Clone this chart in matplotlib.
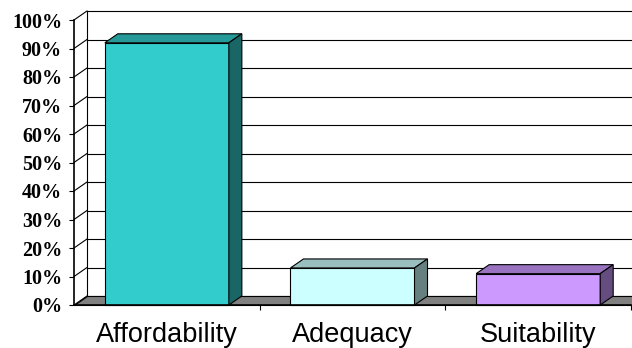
import matplotlib
matplotlib.use('Agg')
import matplotlib.pyplot as plt
from matplotlib.patches import Polygon
import numpy as np

# ---- data ----
categories = ['Affordability', 'Adequacy', 'Suitability']
values = [0.92, 0.13, 0.11]
front_colors = ['#33CCCC', '#CCFFFF', '#CC99FF']
top_colors = ['#269999', '#99BFBF', '#9973BF']
side_colors = ['#1A6666', '#668080', '#664D80']
yticks = [i / 10 for i in range(11)]
ytick_labels = ['%d%%' % (i * 10) for i in range(11)]

W, H = 632, 348
fig = plt.figure(figsize=(W / 100, H / 100), dpi=100)
ax = fig.add_axes([74 / W, (H - 305) / H, 557 / W, 285 / H])
ax.set_xlim(0, 3)
ax.set_ylim(0, 1)
ax.patch.set_visible(False)

# depth offset (pixels) converted to data units
pos = ax.get_position()
px_w, px_h = pos.width * W, pos.height * H
DX = 13 * 3 / px_w
DY = 9 * 1 / px_h

lw = 0.8
# back wall gridlines
for t in yticks:
    ax.plot([DX, 3 + DX], [t + DY, t + DY], color='black', lw=lw, clip_on=False, zorder=1)
    ax.plot([0, DX], [t, t + DY], color='black', lw=lw, clip_on=False, zorder=1)
ax.plot([DX, DX], [DY, 1 + DY], color='black', lw=lw, clip_on=False, zorder=1)

# floor
floor = Polygon([(0, 0), (3 + DX, 0), (3 + DX, DY), (DX, DY)], closed=True,
                facecolor='#808080', edgecolor='black', lw=lw, clip_on=False, zorder=2)
ax.add_patch(floor)

# bars
bw = 0.668
for i, v in enumerate(values):
    c = i + 0.5
    x0, x1 = c - bw / 2, c + bw / 2
    ax.bar(c, v, width=bw, color=front_colors[i], edgecolor='black', lw=lw, zorder=3, clip_on=False)
    top = Polygon([(x0, v), (x1, v), (x1 + DX, v + DY), (x0 + DX, v + DY)], closed=True,
                  facecolor=top_colors[i], edgecolor='black', lw=lw, zorder=3, clip_on=False)
    side = Polygon([(x1, 0), (x1 + DX, DY), (x1 + DX, v + DY), (x1, v)], closed=True,
                   facecolor=side_colors[i], edgecolor='black', lw=lw, zorder=3, clip_on=False)
    ax.add_patch(top)
    ax.add_patch(side)

# axes styling
for s in ['top', 'right']:
    ax.spines[s].set_visible(False)
ax.spines['left'].set_linewidth(1.2)
ax.spines['bottom'].set_linewidth(1.2)
ax.spines['left'].set_zorder(4)
ax.spines['bottom'].set_zorder(4)

ax.set_yticks(yticks)
ax.set_yticklabels(ytick_labels, fontfamily='Liberation Serif', fontweight='bold', fontsize=14.5)
ax.tick_params(axis='y', length=3.6, width=0.8, pad=5, direction='out')

ax.set_xticks([1, 2, 3])
ax.set_xticklabels([])
ax.tick_params(axis='x', which='major', length=3.6, width=0.8, direction='out')
ax.set_xticks([0.5, 1.5, 2.5], minor=True)
ax.set_xticklabels(categories, minor=True, fontfamily='Liberation Sans', fontsize=19.5)
ax.tick_params(axis='x', which='minor', length=0, pad=12)

fig.savefig('out.png', dpi=100)
